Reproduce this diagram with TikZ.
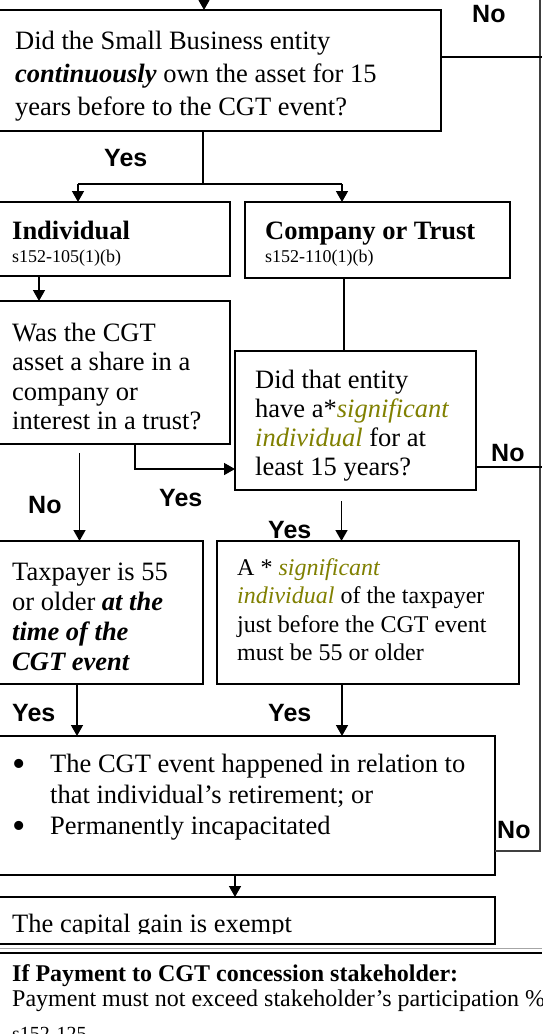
\documentclass[tikz,border=0pt]{standalone}
\usepackage{fontspec}
\setmainfont{Liberation Serif}
\setsansfont{Liberation Sans}
\usetikzlibrary{arrows.meta,fit}
\definecolor{olivetxt}{RGB}{128,128,0}
\begin{document}
\begin{tikzpicture}[x=1pt,y=-1pt,
  box/.style={draw, line width=1.8pt, inner sep=0pt, outer sep=0pt},
  conn/.style={line width=1.5pt},
  arr/.style={conn, -{Triangle[width=12pt,length=11pt]}},
  thin/.style={line width=1.3pt, black!75},
  lbl/.style={font=\fontsize{25}{28}\selectfont\sffamily\bfseries, anchor=base west, inner sep=0pt},
  txt/.style={anchor=base west, inner sep=0pt, align=left},
  big/.style={txt, font=\fontsize{26.5}{33}\selectfont},
  small/.style={txt, font=\fontsize{18}{20}\selectfont},
]
\useasboundingbox (0,0) rectangle (542,1034);
\clip (0,0) rectangle (542,1034);
\fill[white] (0,0) rectangle (542,1034);

% boxes
\node[box, fit={(-5,10) (441,131)}] (b1) {};
\node[box, fit={(-5,202) (230,276)}] (ind) {};
\node[box, fit={(245,202) (510,278)}] (comp) {};
\node[box, fit={(-5,301) (230,444)}] (was) {};
\node[box, fit={(235,351) (476,490)}] (did) {};
\node[box, fit={(-5,541) (203,684)}] (tax) {};
\node[box, fit={(217,541) (519,684)}] (sig) {};
\node[box, fit={(-5,736) (495,875)}] (ret) {};
\node[box, fit={(-5,897) (495,944)}] (ex) {};

% texts (anchor = baseline of the last line)
\node[big] (t1) at (15,115) {Did the Small Business entity\\\textbf{\textit{continuously}} own the asset for 15\\years before to the CGT event?};
\node[big, font=\fontsize{26.5}{30}\selectfont\bfseries] (t2) at (12,239) {Individual};
\node[small] (t2b) at (12,262) {s152-105(1)(b)};
\node[big, font=\fontsize{26.5}{30}\selectfont\bfseries] (t3) at (265,239) {Company or Trust};
\node[small] (t3b) at (265,262) {s152-110(1)(b)};
\node[big, font=\fontsize{26.5}{29.5}\selectfont] (t4) at (12,429.5) {Was the CGT\\asset a share in a\\company or\\interest in a trust?};
\node[big, font=\fontsize{26.5}{29}\selectfont] (t5) at (255,475) {Did that entity\\have a*\textcolor{olivetxt}{\textit{significant}}\\\textcolor{olivetxt}{\textit{individual}} for at\\least 15 years?};
\node[big, font=\fontsize{26.5}{30}\selectfont] (t6) at (12,670) {Taxpayer is 55\\or older \textbf{\textit{at the}}\\\textbf{\textit{time of the}}\\\textbf{\textit{CGT event}}};
\node[txt, font=\fontsize{24}{28.5}\selectfont] (t7) at (237,660.5) {A * \textcolor{olivetxt}{\textit{significant}}\\\textcolor{olivetxt}{\textit{individual}} of the taxpayer\\just before the CGT event\\must be 55 or older};
\node[txt, font=\fontsize{38}{40}\selectfont] (bu1) at (12,776) {•};
\node[txt, font=\fontsize{38}{40}\selectfont] (bu2) at (12,838) {•};
\node[big, font=\fontsize{26.5}{31}\selectfont] (t8) at (50,834) {The CGT event happened in relation to\\that individual’s retirement; or\\Permanently incapacitated};
\begin{scope}
\clip (0,897) rectangle (495,933);
\node[big] (t9) at (12,932) {The capital gain is exempt};
\end{scope}
\node[txt, font=\fontsize{24}{26}\selectfont\bfseries] (t10) at (12,981) {If Payment to CGT concession stakeholder:};
\node[txt, font=\fontsize{24}{26}\selectfont] (t11) at (12,1006) {Payment must not exceed stakeholder’s participation \%};
\node[txt, font=\fontsize{20}{22}\selectfont] (t12) at (12,1040) {s152-125};

% labels
\node[lbl] (no1) at (472,22) {No};
\node[lbl] (yes1) at (104,166) {Yes};
\node[lbl] (yes2) at (159,506) {Yes};
\node[lbl] (no2) at (28,513) {No};
\node[lbl] (no3) at (491,461) {No};
\node[lbl] (yes3) at (268,538) {Yes};
\node[lbl] (yes4) at (12,721) {Yes};
\node[lbl] (yes5) at (268,721) {Yes};
\node[lbl] (no4) at (497,838) {No};

% connectors
\coordinate (top) at (204,0);
\draw[arr] (top) -- (top |- b1.north);
\coordinate (split) at (203,184);
\coordinate (sl) at (78,184);
\coordinate (sr) at (342,184);
\draw[conn] (split |- b1.south) -- (split);
\draw[conn] (sl) -- (sr);
\draw[arr] (sl) -- (sl |- ind.north);
\draw[arr] (sr) -- (sr |- comp.north);
\coordinate (ia) at (39,0);
\draw[arr] (ia |- ind.south) -- (ia |- was.north);
\coordinate (ca) at (344,0);
\draw[conn] (ca |- comp.south) -- (ca |- did.north);
\coordinate (wy) at (135,469);
\draw[arr] (wy |- was.south) -- (wy) -- (wy -| did.west);
\coordinate (wn) at (79.5,453);
\draw[arr] (wn) -- (wn |- tax.north);
\coordinate (dy) at (341.5,501);
\draw[arr] (dy) -- (dy |- sig.north);
\coordinate (ty) at (77,0);
\draw[arr] (ty |- tax.south) -- (ty |- ret.north);
\coordinate (sy) at (342,0);
\draw[arr] (sy |- sig.south) -- (sy |- ret.north);
\coordinate (ra) at (235,0);
\draw[arr] (ra |- ret.south) -- (ra |- ex.north);

% No return line on the right
\coordinate (rtop) at (540,0);
\coordinate (rbot) at (540,851);
\draw[thin] (rtop) -- (rbot) -- (rbot -| ret.east);
\coordinate (n1) at (542,57);
\draw[conn] (n1 -| b1.east) -- (n1);
\coordinate (n3) at (542,467);
\draw[conn] (n3 -| did.east) -- (n3);

% bottom rules
\coordinate (rl) at (0,948);
\coordinate (rr) at (542,948);
\draw[line width=0.8pt, black!35] (rl) -- (rr);
\coordinate (rl2) at (0,953);
\coordinate (rr2) at (542,953);
\draw[line width=1.8pt] (rl2) -- (rr2);
\end{tikzpicture}
\end{document}
